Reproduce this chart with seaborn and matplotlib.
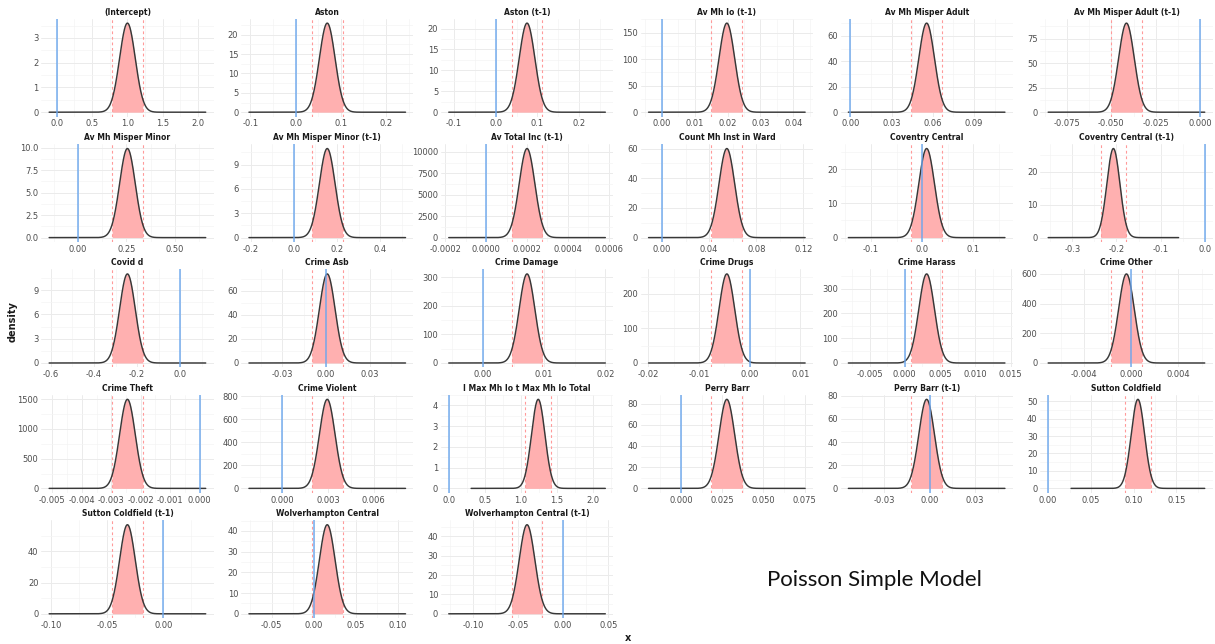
import numpy as np
import pandas as pd
import matplotlib
matplotlib.use("Agg")
import matplotlib.pyplot as plt
import seaborn as sns

# ---- data ----
names = ["(Intercept)", "Aston", "Aston (t-1)", "Av Mh Io (t-1)", "Av Mh Misper Adult",
         "Av Mh Misper Adult (t-1)", "Av Mh Misper Minor", "Av Mh Misper Minor (t-1)",
         "Av Total Inc (t-1)", "Count Mh Inst in Ward", "Coventry Central",
         "Coventry Central (t-1)", "Covid d", "Crime Asb", "Crime Damage", "Crime Drugs",
         "Crime Harass", "Crime Other", "Crime Theft", "Crime Violent",
         "I Max Mh Io t Max Mh Io Total", "Perry Barr", "Perry Barr (t-1)",
         "Sutton Coldfield", "Sutton Coldfield (t-1)", "Wolverhampton Central",
         "Wolverhampton Central (t-1)"]
means = [1.0, 0.07, 0.075, 0.0198, 0.0555,
         -0.0415, 0.255, 0.155,
         0.0002, 0.055, 0.009,
         -0.207, -0.245, 0.0008, 0.0072, -0.0045,
         0.0031, -0.0004, -0.00245, 0.00295,
         1.24, 0.0278, -0.002,
         0.105, -0.032, 0.016,
         -0.04]
sds = [0.1108, 0.01734, 0.01873, 0.002375, 0.0057,
       0.0044, 0.0403, 0.0363,
       3.84e-5, 0.00665, 0.01534,
       0.01478, 0.0363, 0.00539, 0.001279, 0.001546,
       0.00111, 0.000665, 0.000266, 0.000515,
       0.093, 0.00475, 0.00518,
       0.00782, 0.0070, 0.00928,
       0.00867]
xtick_labels = [
    ["0.0", "0.5", "1.0", "1.5", "2.0"],
    ["-0.1", "0.0", "0.1", "0.2"],
    ["-0.1", "0.0", "0.1", "0.2"],
    ["0.00", "0.01", "0.02", "0.03", "0.04"],
    ["0.00", "0.03", "0.06", "0.09"],
    ["-0.075", "-0.050", "-0.025", "0.000"],
    ["0.00", "0.25", "0.50"],
    ["-0.2", "0.0", "0.2", "0.4"],
    ["-0.0002", "0.0000", "0.0002", "0.0004", "0.0006"],
    ["0.00", "0.04", "0.08", "0.12"],
    ["-0.1", "0.0", "0.1"],
    ["-0.3", "-0.2", "-0.1", "0.0"],
    ["-0.6", "-0.4", "-0.2", "0.0"],
    ["-0.03", "0.00", "0.03"],
    ["0.00", "0.01", "0.02"],
    ["-0.02", "-0.01", "0.00", "0.01"],
    ["-0.005", "0.000", "0.005", "0.010", "0.015"],
    ["-0.004", "0.000", "0.004"],
    ["-0.005", "-0.004", "-0.003", "-0.002", "-0.001", "0.000"],
    ["0.000", "0.003", "0.006"],
    ["0.0", "0.5", "1.0", "1.5", "2.0"],
    ["0.000", "0.025", "0.050", "0.075"],
    ["-0.03", "0.00", "0.03"],
    ["0.00", "0.05", "0.10", "0.15"],
    ["-0.10", "-0.05", "0.00"],
    ["-0.05", "0.00", "0.05", "0.10"],
    ["-0.10", "-0.05", "0.00", "0.05"],
]
ytick_labels = [
    ["0", "1", "2", "3"],
    ["0", "5", "10", "15", "20"],
    ["0", "5", "10", "15", "20"],
    ["0", "50", "100", "150"],
    ["0", "20", "40", "60"],
    ["0", "25", "50", "75"],
    ["0.0", "2.5", "5.0", "7.5", "10.0"],
    ["0", "3", "6", "9"],
    ["0", "2500", "5000", "7500", "10000"],
    ["0", "20", "40", "60"],
    ["0", "10", "20"],
    ["0", "10", "20"],
    ["0", "3", "6", "9"],
    ["0", "20", "40", "60"],
    ["0", "100", "200", "300"],
    ["0", "100", "200"],
    ["0", "100", "200", "300"],
    ["0", "200", "400", "600"],
    ["0", "500", "1000", "1500"],
    ["0", "200", "400", "600", "800"],
    ["0", "1", "2", "3", "4"],
    ["0", "20", "40", "60", "80"],
    ["0", "20", "40", "60", "80"],
    ["0", "10", "20", "30", "40", "50"],
    ["0", "20", "40", "60"],
    ["0", "10", "20", "30", "40"],
    ["0", "10", "20", "30", "40"],
]
ref_value = 0.0
title_text = "Poisson Simple Model"

# ---- build curves (normal posterior approximation) ----
rows = []
for n, m, s in zip(names, means, sds):
    xs = np.linspace(m - 10 * s, m + 10 * s, 600)
    d = np.exp(-0.5 * ((xs - m) / s) ** 2) / (s * np.sqrt(2 * np.pi))
    rows.append(pd.DataFrame({"term": n, "x": xs, "density": d}))
df = pd.concat(rows, ignore_index=True)

sns.set_style("white")
plt.rcParams["font.family"] = ["DejaVu Sans"]

fig = plt.figure(figsize=(12.15, 6.44), dpi=100)
gs = fig.add_gridspec(5, 6, left=0.034, right=0.998, top=0.971, bottom=0.040,
                      wspace=0.16, hspace=0.28)

FILL = "#FFB0B0"
LINE = "#383838"
RED = "#FF9A9A"
BLUE = "#6AA6EE"

for i, (n, m, s) in enumerate(zip(names, means, sds)):
    r, c = divmod(i, 6)
    ax = fig.add_subplot(gs[r, c])
    sub = df[df["term"] == n]
    lo, hi = m - 1.96 * s, m + 1.96 * s
    xv = sub["x"].to_numpy()
    dv = sub["density"].to_numpy()
    mask = (xv >= lo) & (xv <= hi)
    ax.fill_between(xv[mask], 0, dv[mask], color=FILL, lw=0, zorder=2)
    sns.lineplot(data=sub, x="x", y="density", ax=ax, color=LINE, lw=1.05, zorder=4)
    for v in (lo, hi):
        ax.axvline(v, color=RED, lw=0.8, ls=(0, (2.5, 2.5)), zorder=3)
    ax.axvline(ref_value, color=BLUE, lw=1.2, alpha=0.85, zorder=5)

    xmin = min(xv.min(), ref_value)
    xmax = max(xv.max(), ref_value)
    pad = 0.05 * (xmax - xmin)
    ymax = dv.max()

    xt = [float(t) for t in xtick_labels[i]]
    yt = [float(t) for t in ytick_labels[i]]
    ax.set_xticks(xt)
    ax.set_xticklabels(xtick_labels[i])
    ax.set_yticks(yt)
    ax.set_yticklabels(ytick_labels[i])
    xs_step = xt[1] - xt[0]
    ys_step = yt[1] - yt[0]
    ax.set_xticks(np.arange(xt[0] - xs_step / 2, xt[-1] + xs_step, xs_step), minor=True)
    ax.set_yticks(np.arange(yt[0] - ys_step / 2, yt[-1] + ys_step, ys_step), minor=True)
    ax.set_xlim(xmin - pad, xmax + pad)
    ax.set_ylim(-0.05 * ymax, 1.05 * ymax)

    ax.grid(True, which="major", color="#EBEBEB", lw=0.7, zorder=0)
    ax.grid(True, which="minor", color="#F4F4F4", lw=0.5, zorder=0)
    ax.set_axisbelow(True)
    for sp in ax.spines.values():
        sp.set_visible(False)
    ax.tick_params(which="both", length=0, labelsize=6, labelcolor="#4D4D4D", pad=2)
    ax.set_xlabel("")
    ax.set_ylabel("")
    ax.set_title(n, fontsize=5.5, fontweight="bold", pad=3, color="#1a1a1a")

fig.text(0.010, 0.50, "density", rotation=90, ha="center", va="center",
         fontsize=7, fontweight="bold", color="#1a1a1a")
fig.text(0.517, 0.010, "x", ha="center", va="center", fontsize=7,
         fontweight="bold", color="#1a1a1a")
fig.text(0.72, 0.10, title_text, ha="center", va="center", fontsize=16,
         family=["Lato", "DejaVu Sans"], color="#111111")

fig.savefig("out.png", dpi=100)
